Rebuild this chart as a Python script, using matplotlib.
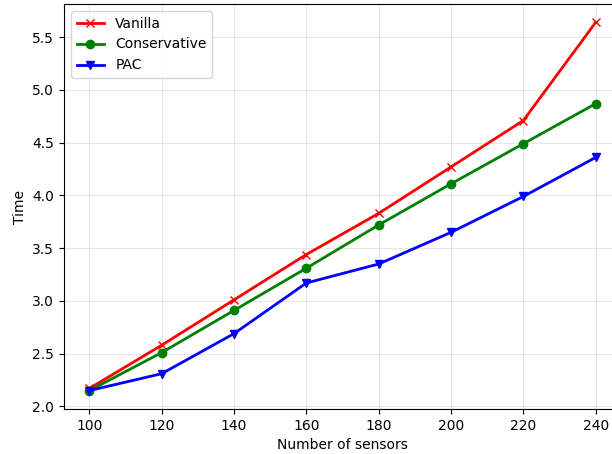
import numpy as np
import matplotlib
matplotlib.use('Agg')
import matplotlib.pyplot as plt

sensors = [100, 120, 140, 160, 180, 200, 220, 240]
vanilla = [2.17, 2.58, 3.01, 3.44, 3.83, 4.27, 4.71, 5.64]
conservative = [2.15, 2.51, 2.91, 3.31, 3.72, 4.11, 4.49, 4.87]
pac = [2.15, 2.31, 2.69, 3.17, 3.35, 3.65, 3.99, 4.36]

fig = plt.figure(figsize=(6.12, 4.54), dpi=100)
ax = fig.add_axes([64/612, 45/454, 557/612, 405/454])
ax.plot(sensors, vanilla, color='red', marker='x', lw=2, label='Vanilla')
ax.plot(sensors, conservative, color='green', marker='o', lw=2, label='Conservative')
ax.plot(sensors, pac, color='blue', marker='v', lw=2, label='PAC')
ax.set_xticks(sensors)
ax.grid(True, alpha=0.3)
ax.set_xlabel('Number of sensors')
ax.set_ylabel('Time')
ax.legend(loc='upper left')
fig.savefig('out.png')
